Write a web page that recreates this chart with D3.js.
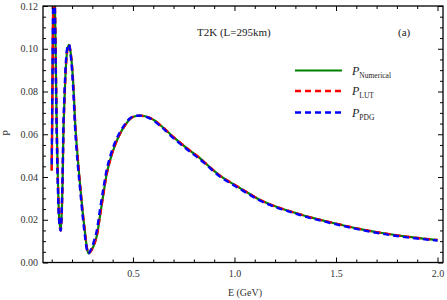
<!DOCTYPE html>
<html>
<head>
<meta charset="utf-8">
<script src="https://cdn.jsdelivr.net/npm/d3@7"></script>
<style>
  body { margin: 0; background: #fff; }
  svg text { font-family: "Liberation Serif", "Times New Roman", serif; }
</style>
</head>
<body>
<div id="chart"></div>
<script>
// energies (GeV)
var energies = [0.100,0.103,0.106,0.109,0.112,0.115,0.119,0.124,0.130,0.136,0.1445,0.150,0.154,0.157,0.162,0.166,0.172,0.178,0.185,0.192,0.200,0.207,0.215,0.228,0.240,0.252,0.264,0.274,0.281,0.290,0.300,0.311,0.322,0.338,0.355,0.370,0.388,0.410,0.437,0.460,0.486,0.510,0.535,0.560,0.585,0.610,0.634,0.660,0.684,0.710,0.733,0.780,0.831,0.880,0.930,0.980,1.029,1.080,1.127,1.180,1.226,1.300,1.374,1.450,1.521,1.600,1.719,1.800,1.900,2.000];

var pNumerical = [0.043,0.075,0.110,0.130,0.135,0.125,0.100,0.068,0.040,0.022,0.015,0.025,0.040,0.058,0.074,0.084,0.095,0.100,0.1018,0.099,0.092,0.082,0.066,0.049,0.036,0.024,0.014,0.0065,0.0043,0.0050,0.0065,0.0090,0.0125,0.0220,0.0324,0.0410,0.0480,0.0545,0.0604,0.0640,0.0672,0.0684,0.0687,0.0684,0.0676,0.0662,0.0643,0.0622,0.0600,0.0578,0.0560,0.0524,0.0487,0.0445,0.0405,0.0375,0.0347,0.0318,0.0292,0.0270,0.0254,0.0232,0.0211,0.0193,0.0177,0.0160,0.0139,0.0127,0.0115,0.0105];

var pLUT = [0.043,0.075,0.110,0.130,0.135,0.125,0.100,0.068,0.040,0.022,0.015,0.025,0.040,0.058,0.074,0.084,0.095,0.100,0.1018,0.099,0.092,0.082,0.066,0.049,0.036,0.024,0.014,0.0065,0.0043,0.0050,0.0065,0.0090,0.0125,0.0220,0.0324,0.0410,0.0480,0.0545,0.0604,0.0640,0.0672,0.0684,0.0687,0.0684,0.0676,0.0662,0.0643,0.0622,0.0600,0.0578,0.0560,0.0524,0.0487,0.0445,0.0405,0.0375,0.0347,0.0318,0.0292,0.0270,0.0254,0.0232,0.0211,0.0193,0.0177,0.0160,0.0139,0.0127,0.0115,0.0105];

var pPDG = [0.046,0.080,0.114,0.132,0.134,0.121,0.095,0.063,0.036,0.020,0.015,0.028,0.044,0.062,0.077,0.087,0.097,0.101,0.1020,0.098,0.090,0.079,0.063,0.046,0.034,0.022,0.012,0.0055,0.0042,0.0055,0.0075,0.0110,0.0150,0.0250,0.0350,0.0430,0.0497,0.0558,0.0612,0.0646,0.0675,0.0686,0.0687,0.0682,0.0673,0.0658,0.0639,0.0617,0.0595,0.0573,0.0555,0.0519,0.0482,0.0441,0.0401,0.0371,0.0343,0.0314,0.0289,0.0267,0.0251,0.0229,0.0208,0.0190,0.0174,0.0157,0.0136,0.0124,0.0112,0.0103];

var xMajor = [0.5, 1.0, 1.5, 2.0];
var yMajor = [0.00, 0.02, 0.04, 0.06, 0.08, 0.10, 0.12];

var width = 447, height = 300;
var padL = 43, padR = 443, padT = 6, padB = 262.5;

var svg = d3.select("#chart").append("svg")
    .attr("width", width)
    .attr("height", height);

var x = d3.scaleLinear().domain([0.057, 2.027]).range([padL, padR]);
var y = d3.scaleLinear().domain([0, 0.12]).range([padB, padT]);

var xMinor = d3.range(1, 21).map(function(i) { return i / 10; }).filter(function(v) { return xMajor.indexOf(v) < 0; });
var yMinor = d3.range(0, 25).map(function(i) { return i * 0.005; }).filter(function(v, i) { return i % 4 != 0; });

svg.append("clipPath").attr("id", "plot")
  .append("rect")
    .attr("x", padL).attr("y", padT)
    .attr("width", padR - padL).attr("height", padB - padT);

// curves
var series = [
  { vals: pNumerical, color: "#008000", dash: null, w: 2.2 },
  { vals: pLUT, color: "#ff0000", dash: "6,4", w: 2.4 },
  { vals: pPDG, color: "#0000ff", dash: "6,4", w: 2.4 }
];

var line = d3.line()
    .x(function(d) { return x(d[0]); })
    .y(function(d) { return y(d[1]); })
    .curve(d3.curveMonotoneX);

series.forEach(function(s) {
  svg.append("path")
    .datum(energies.map(function(e, i) { return [e, s.vals[i]]; }))
    .attr("clip-path", "url(#plot)")
    .attr("fill", "none")
    .attr("stroke", s.color)
    .attr("stroke-width", s.w)
    .attr("stroke-dasharray", s.dash)
    .attr("d", line);
});

// axes, ticks pointing inward
function styleAxis(g) {
  g.select(".domain").remove();
  g.selectAll("line").attr("stroke", "#000").attr("stroke-width", 1);
  g.selectAll("text").attr("fill", "#333").style("font-size", "10px");
}

svg.append("g").attr("transform", "translate(0," + padB + ")")
    .call(d3.axisBottom(x).tickValues(xMajor).tickSize(-5).tickPadding(7).tickFormat(d3.format(".1f")))
    .call(styleAxis);
svg.append("g").attr("transform", "translate(0," + padB + ")")
    .call(d3.axisBottom(x).tickValues(xMinor).tickSize(-3).tickFormat(""))
    .call(styleAxis);
svg.append("g").attr("transform", "translate(0," + padT + ")")
    .call(d3.axisTop(x).tickValues(xMajor).tickSize(-5).tickFormat(""))
    .call(styleAxis);
svg.append("g").attr("transform", "translate(0," + padT + ")")
    .call(d3.axisTop(x).tickValues(xMinor).tickSize(-3).tickFormat(""))
    .call(styleAxis);

svg.append("g").attr("transform", "translate(" + padL + ",0)")
    .call(d3.axisLeft(y).tickValues(yMajor).tickSize(-5).tickPadding(5).tickFormat(d3.format(".2f")))
    .call(styleAxis);
svg.append("g").attr("transform", "translate(" + padL + ",0)")
    .call(d3.axisLeft(y).tickValues(yMinor).tickSize(-3).tickFormat(""))
    .call(styleAxis);
svg.append("g").attr("transform", "translate(" + padR + ",0)")
    .call(d3.axisRight(y).tickValues(yMajor).tickSize(-5).tickFormat(""))
    .call(styleAxis);
svg.append("g").attr("transform", "translate(" + padR + ",0)")
    .call(d3.axisRight(y).tickValues(yMinor).tickSize(-3).tickFormat(""))
    .call(styleAxis);

// frame
svg.append("rect")
    .attr("x", padL).attr("y", padT)
    .attr("width", padR - padL).attr("height", padB - padT)
    .attr("fill", "none").attr("stroke", "#000").attr("stroke-width", 1.3);

// axis titles
svg.append("text")
    .attr("x", 245).attr("y", 296)
    .attr("text-anchor", "middle")
    .attr("fill", "#333").style("font-size", "10px")
    .text("E (GeV)");
svg.append("text")
    .attr("transform", "translate(10,133) rotate(-90)")
    .attr("text-anchor", "middle")
    .attr("fill", "#333").style("font-size", "10px")
    .text("P");

// annotations
svg.append("text")
    .attr("x", 197).attr("y", 36)
    .attr("fill", "#222").style("font-size", "11px")
    .text("T2K (L=295km)");
svg.append("text")
    .attr("x", 398).attr("y", 36)
    .attr("fill", "#222").style("font-size", "11px")
    .text("(a)");

// legend
var legendNames = ["Numerical", "LUT", "PDG"];
var legendY = [70.5, 91, 112.5];
series.forEach(function(s, i) {
  svg.append("line")
    .attr("x1", 295).attr("x2", 342)
    .attr("y1", legendY[i]).attr("y2", legendY[i])
    .attr("stroke", s.color)
    .attr("stroke-width", s.w)
    .attr("stroke-dasharray", s.dash);
  var t = svg.append("text")
    .attr("x", 352).attr("y", legendY[i] + 4)
    .attr("fill", "#222").style("font-size", "12px");
  t.append("tspan").style("font-style", "italic").text("P");
  t.append("tspan").attr("dy", 3).style("font-size", "7.5px").text(legendNames[i]);
});
</script>
</body>
</html>
